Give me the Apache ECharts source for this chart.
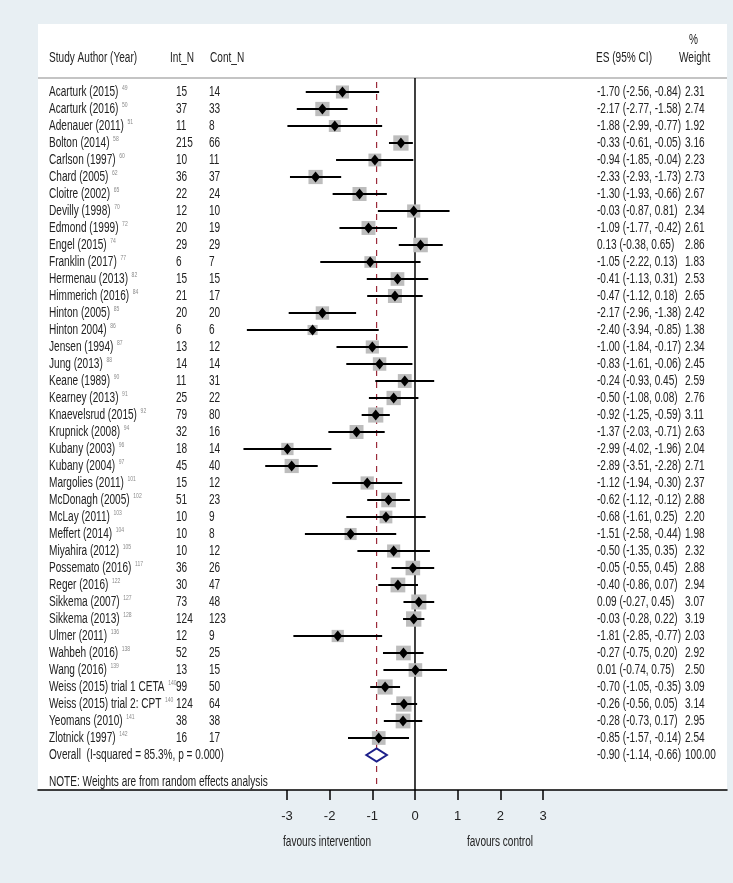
<!DOCTYPE html>
<html>
<head>
<meta charset="utf-8">
<title>Forest plot</title>
<script src="https://cdn.jsdelivr.net/npm/echarts@6/dist/echarts.min.js"></script>
<style>
  html, body { margin: 0; padding: 0; background: #e8eff3; }
  #main { width: 733px; height: 883px; }
</style>
</head>
<body>
<div id="main"></div>
<script>
// study rows, top to bottom
const studies = [
  'Acarturk (2015)', 'Acarturk (2016)', 'Adenauer (2011)', 'Bolton (2014)', 'Carlson (1997)',
  'Chard (2005)', 'Cloitre (2002)', 'Devilly (1998)', 'Edmond (1999)', 'Engel (2015)',
  'Franklin (2017)', 'Hermenau (2013)', 'Himmerich (2016)', 'Hinton (2005)', 'Hinton 2004)',
  'Jensen (1994)', 'Jung (2013)', 'Keane (1989)', 'Kearney (2013)', 'Knaevelsrud (2015)',
  'Krupnick (2008)', 'Kubany (2003)', 'Kubany (2004)', 'Margolies (2011)', 'McDonagh (2005)',
  'McLay (2011)', 'Meffert (2014)', 'Miyahira (2012)', 'Possemato (2016)', 'Reger (2016)',
  'Sikkema (2007)', 'Sikkema (2013)', 'Ulmer (2011)', 'Wahbeh (2016)', 'Wang (2016)',
  'Weiss (2015) trial 1 CETA', 'Weiss (2015) trial 2: CPT', 'Yeomans (2010)', 'Zlotnick (1997)'
]
const refs = [
  '49', '50', '51', '58', '60', '62', '65', '70', '72', '74', '77', '82', '84', '85', '86',
  '87', '88', '90', '91', '92', '94', '96', '97', '101', '102', '103', '104', '105', '117', '122',
  '127', '128', '136', '138', '139', '140', '140', '141', '142'
]
const intN = [15, 37, 11, 215, 10, 36, 22, 12, 20, 29, 6, 15, 21, 20, 6, 13, 14, 11, 25, 79,
  32, 18, 45, 15, 51, 10, 10, 10, 36, 30, 73, 124, 12, 52, 13, 99, 124, 38, 16]
const contN = [14, 33, 8, 66, 11, 37, 24, 10, 19, 29, 7, 15, 17, 20, 6, 12, 14, 31, 22, 80,
  16, 14, 40, 12, 23, 9, 8, 12, 26, 47, 48, 123, 9, 25, 15, 50, 64, 38, 17]
const es = [-1.70, -2.17, -1.88, -0.33, -0.94, -2.33, -1.30, -0.03, -1.09, 0.13,
  -1.05, -0.41, -0.47, -2.17, -2.40, -1.00, -0.83, -0.24, -0.50, -0.92,
  -1.37, -2.99, -2.89, -1.12, -0.62, -0.68, -1.51, -0.50, -0.05, -0.40,
  0.09, -0.03, -1.81, -0.27, 0.01, -0.70, -0.26, -0.28, -0.85]
const ciLow = [-2.56, -2.77, -2.99, -0.61, -1.85, -2.93, -1.93, -0.87, -1.77, -0.38,
  -2.22, -1.13, -1.12, -2.96, -3.94, -1.84, -1.61, -0.93, -1.08, -1.25,
  -2.03, -4.02, -3.51, -1.94, -1.12, -1.61, -2.58, -1.35, -0.55, -0.86,
  -0.27, -0.28, -2.85, -0.75, -0.74, -1.05, -0.56, -0.73, -1.57]
const ciHigh = [-0.84, -1.58, -0.77, -0.05, -0.04, -1.73, -0.66, 0.81, -0.42, 0.65,
  0.13, 0.31, 0.18, -1.38, -0.85, -0.17, -0.06, 0.45, 0.08, -0.59,
  -0.71, -1.96, -2.28, -0.30, -0.12, 0.25, -0.44, 0.35, 0.45, 0.07,
  0.45, 0.22, -0.77, 0.20, 0.75, -0.35, 0.05, 0.17, -0.14]
const weights = [2.31, 2.74, 1.92, 3.16, 2.23, 2.73, 2.67, 2.34, 2.61, 2.86,
  1.83, 2.53, 2.65, 2.42, 1.38, 2.34, 2.45, 2.59, 2.76, 3.11,
  2.63, 2.04, 2.71, 2.37, 2.88, 2.20, 1.98, 2.32, 2.88, 2.94,
  3.07, 3.19, 2.03, 2.92, 2.50, 3.09, 3.14, 2.95, 2.54]

const overallLabel = 'Overall  (I-squared = 85.3%, p = 0.000)'
const overallEs = -0.90
const overallLow = -1.14
const overallHigh = -0.66
const overallWeight = '100.00'

const xTicks = [-3, -2, -1, 0, 1, 2, 3]

// layout
const FONT = '"Liberation Sans", Arial, sans-serif'
const TXT = '#222222'
const NARROW = 0.72 // fake a condensed face
const COL = { name: 49, intN: 176, contN: 209, es: 597, weight: 685 }
const HEADER_ROW = -0.8235
const AXIS_ROW = 41.0588
const overallRow = studies.length

const fmt = v => v.toFixed(2)

// narrow text element
function txt (x, y, text, extra) {
  return {
    type: 'text',
    x: x,
    y: y,
    scaleX: NARROW,
    style: Object.assign({ text: text, font: '14px ' + FONT, fill: TXT, verticalAlign: 'middle' }, extra || {})
  }
}

let chart = echarts.init(document.getElementById('main'))

let rowData = studies.map((s, i) => [es[i], i, ciLow[i], ciHigh[i], weights[i]])

let option = {
  backgroundColor: '#e8eff3',
  animation: false,
  grid: {
    left: 38,
    right: 6,
    top: 24,
    bottom: 93,
    show: true,
    backgroundColor: '#ffffff',
    borderWidth: 0
  },
  xAxis: {
    type: 'value',
    min: -8.835,
    max: 7.312,
    axisLine: { onZero: false, lineStyle: { color: '#000', width: 1.5 } },
    axisTick: {
      customValues: xTicks,
      length: 10,
      lineStyle: { color: '#000', width: 1.5 }
    },
    axisLabel: {
      customValues: xTicks,
      margin: 20,
      color: TXT,
      fontFamily: FONT,
      fontSize: 13
    },
    splitLine: { show: false }
  },
  yAxis: {
    type: 'value',
    inverse: true,
    min: -4,
    max: AXIS_ROW,
    show: false
  },
  graphic: [
    txt(49, 58, 'Study Author (Year)'),
    txt(170, 58, 'Int_N'),
    txt(210, 58, 'Cont_N'),
    txt(596, 58, 'ES (95% CI)'),
    txt(689, 40, '%'),
    txt(679, 58, 'Weight'),
    txt(49, 782, 'NOTE: Weights are from random effects analysis'),
    txt(327, 842, 'favours intervention', { align: 'center' }),
    txt(500, 842, 'favours control', { align: 'center' })
  ],
  series: [
    // header rule, null line, overall dashed line
    {
      type: 'custom',
      silent: true,
      clip: false,
      data: [[0]],
      renderItem (params, api) {
        let top = api.coord([0, HEADER_ROW])[1]
        let bottom = api.coord([0, AXIS_ROW])[1]
        let x0 = api.coord([0, 0])[0]
        let xo = api.coord([overallEs, 0])[0]
        return {
          type: 'group',
          children: [
            { type: 'line', shape: { x1: params.coordSys.x, y1: top, x2: params.coordSys.x + params.coordSys.width, y2: top }, style: { stroke: '#c4c4c4', lineWidth: 2 } },
            { type: 'line', shape: { x1: x0, y1: top, x2: x0, y2: bottom }, style: { stroke: '#000', lineWidth: 1.5 } },
            { type: 'line', shape: { x1: xo, y1: top + 4, x2: xo, y2: bottom }, style: { stroke: '#9b2a3a', lineWidth: 1.2, lineDash: [6, 6] } }
          ]
        }
      }
    },
    // study estimates: weight box, CI, point
    {
      type: 'custom',
      silent: true,
      clip: false,
      data: rowData,
      renderItem (params, api) {
        let p = api.coord([api.value(0), api.value(1)])
        let lo = api.coord([api.value(2), api.value(1)])
        let hi = api.coord([api.value(3), api.value(1)])
        let side = 8.6 * Math.sqrt(api.value(4))
        return {
          type: 'group',
          children: [
            { type: 'rect', shape: { x: p[0] - side / 2, y: p[1] - side / 2, width: side, height: side }, style: { fill: '#bdbdbd' } },
            { type: 'line', shape: { x1: lo[0], y1: p[1], x2: hi[0], y2: p[1] }, style: { stroke: '#000', lineWidth: 2 } },
            { type: 'polygon', shape: { points: [[p[0] - 4.5, p[1]], [p[0], p[1] - 5.5], [p[0] + 4.5, p[1]], [p[0], p[1] + 5.5]] }, style: { fill: '#000' } }
          ]
        }
      }
    },
    // overall diamond
    {
      type: 'custom',
      silent: true,
      clip: false,
      data: [[overallEs, overallRow, overallLow, overallHigh]],
      renderItem (params, api) {
        let p = api.coord([api.value(0), api.value(1)])
        let lo = api.coord([api.value(2), api.value(1)])
        let hi = api.coord([api.value(3), api.value(1)])
        return {
          type: 'polygon',
          shape: { points: [[lo[0], p[1]], [p[0], p[1] - 6.5], [hi[0], p[1]], [p[0], p[1] + 6.5]] },
          style: { fill: '#fff', stroke: '#1c1f8a', lineWidth: 2 }
        }
      }
    },
    // text columns
    {
      type: 'custom',
      silent: true,
      clip: false,
      data: studies.map((s, i) => [0, i]).concat([[0, overallRow]]),
      renderItem (params, api) {
        let i = params.dataIndex
        let y = api.coord([0, api.value(1)])[1]
        if (i === studies.length) {
          return {
            type: 'group',
            children: [
              txt(COL.name, y, overallLabel),
              txt(COL.es, y, fmt(overallEs) + ' (' + fmt(overallLow) + ', ' + fmt(overallHigh) + ')'),
              txt(COL.weight, y, overallWeight)
            ]
          }
        }
        return {
          type: 'group',
          children: [
            txt(COL.name, y, studies[i] + '{sup|' + refs[i] + '}', {
              rich: { sup: { fontSize: 7, fontFamily: FONT, fill: '#8a8a8a', verticalAlign: 'top', padding: [0, 0, 0, 5] } }
            }),
            txt(COL.intN, y, String(intN[i])),
            txt(COL.contN, y, String(contN[i])),
            txt(COL.es, y, fmt(es[i]) + ' (' + fmt(ciLow[i]) + ', ' + fmt(ciHigh[i]) + ')'),
            txt(COL.weight, y, fmt(weights[i]))
          ]
        }
      }
    }
  ]
}

chart.setOption(option)
</script>
</body>
</html>
